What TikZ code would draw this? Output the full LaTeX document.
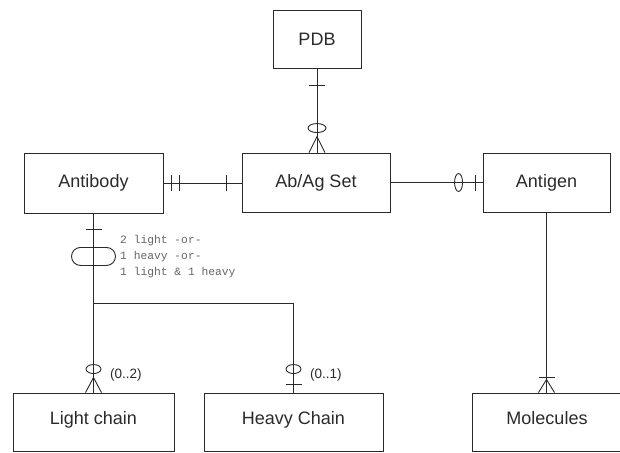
\documentclass[tikz,border=0pt]{standalone}
\usepackage{fontspec}
\setmainfont{Liberation Sans}
\newfontfamily\notefont{Liberation Mono}
\usetikzlibrary{calc}
\definecolor{ink}{HTML}{2A2A2A}
\definecolor{notegray}{HTML}{666666}
\begin{document}
\begin{tikzpicture}[x=1pt,y=-1pt,
  ent/.style={draw=ink, line width=0.9pt, text=ink, font=\fontsize{18}{21}\selectfont, inner sep=0pt},
  conn/.style={draw=ink, line width=0.9pt},
  note/.style={font=\notefont\fontsize{11.3}{16}\selectfont, text=notegray, anchor=west, inner sep=0pt, align=left},
  card/.style={font=\fontsize{13.5}{16}\selectfont, text=ink, anchor=west, inner sep=0pt}]
\useasboundingbox (0,0) rectangle (620,452);
\clip (0,0) rectangle (620,452);
% entities
\node[ent, minimum width=88pt, minimum height=58pt] (pdb) at (317,39) {PDB};
\node[ent, minimum width=148pt, minimum height=59pt] (abag) at (316,182.5) {Ab/Ag Set};
\node[ent, minimum width=139pt, minimum height=60pt] (ab) at (93.5,183) {Antibody};
\node[ent, minimum width=127pt, minimum height=59pt] (ag) at (546.5,182.5) {Antigen};
\node[ent, minimum width=161pt, minimum height=58pt] (lc) at (93.5,422) {\raisebox{8pt}{Light chain}};
\node[ent, minimum width=179pt, minimum height=58pt] (hc) at (293.5,422) {\raisebox{8pt}{Heavy Chain}};
\node[ent, minimum width=150pt, minimum height=58pt] (mol) at (547,422) {\raisebox{8pt}{Molecules}};

% PDB -- Ab/Ag Set
\coordinate (pa) at (pdb.south |- abag.north);
\draw[conn] (pdb.south) -- (pa);
\draw[conn] ($(pdb.south)+(-8,17)$) -- ($(pdb.south)+(8,17)$);
\draw[conn] ($(pa)+(0,-24.5)$) ellipse [x radius=9pt, y radius=4.5pt];
\draw[conn] ($(pa)+(-8,0)$) -- ($(pa)+(0,-16)$) -- ($(pa)+(8,0)$);

% Antibody -- Ab/Ag Set
\coordinate (ba) at (ab.east -| abag.west);
\draw[conn] (ab.east) -- (ba);
\draw[conn] ($(ab.east)+(8,-8)$) -- ($(ab.east)+(8,8)$);
\draw[conn] ($(ab.east)+(16,-8)$) -- ($(ab.east)+(16,8)$);
\draw[conn] ($(ba)+(-15,-8)$) -- ($(ba)+(-15,8)$);

% Ab/Ag Set -- Antigen
\coordinate (ga) at (abag.east -| ag.west);
\draw[conn] (abag.east) -- (ga);
\draw[conn] ($(ga)+(-24,0)$) ellipse [x radius=4pt, y radius=9pt];
\draw[conn] ($(ga)+(-7,-8)$) -- ($(ga)+(-7,8)$);

% Antigen -- Molecules
\coordinate (gm) at (ag.south |- mol.north);
\draw[conn] (ag.south) -- (gm);
\draw[conn] ($(gm)+(-8,0)$) -- ($(gm)+(0,-13)$) -- ($(gm)+(8,0)$);
\draw[conn] ($(gm)+(-8,-15)$) -- ($(gm)+(8,-15)$);

% Antibody -- chains
\coordinate (al) at (ab.south |- lc.north);
\coordinate (j) at ($(ab.south)+(0,90)$);
\draw[conn] (ab.south) -- (al);
\draw[conn] (j) -| (hc.north);
\draw[conn] ($(ab.south)+(-8,16)$) -- ($(ab.south)+(8,16)$);
\draw[conn, rounded corners=9pt] ($(ab.south)+(-22,34)$) rectangle ($(ab.south)+(22,52)$);
\node[note] (notes) at (120,257) {2 light -or-\\1 heavy -or-\\1 light \& 1 heavy};

% light chain end
\draw[conn] ($(al)+(0,-23.5)$) ellipse [x radius=7.5pt, y radius=4.5pt];
\draw[conn] ($(al)+(-8,0)$) -- ($(al)+(0,-15)$) -- ($(al)+(8,0)$);
\node[card] (lcard) at (110,375) {(0..2)};

% heavy chain end
\draw[conn] ($(hc.north)+(0,-23.5)$) ellipse [x radius=7.5pt, y radius=4.5pt];
\draw[conn] ($(hc.north)+(-8,-8)$) -- ($(hc.north)+(8,-8)$);
\node[card] (hcard) at (310,375) {(0..1)};
\end{tikzpicture}
\end{document}
